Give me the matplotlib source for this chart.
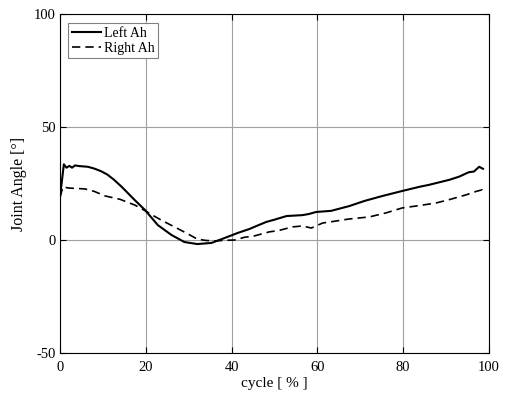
import matplotlib.pyplot as plt

plt.rcParams['font.family'] = ['Liberation Serif', 'DejaVu Serif']
plt.rcParams['axes.unicode_minus'] = False

# left joint angle
left_x = [0, 0.9, 1.5, 2.2, 2.8, 3.5, 4.5, 6.5, 8, 9.5, 11, 12.5, 14.4, 17.4, 19.8,
          22.8, 26, 29, 32, 35.3, 37.7, 41.4, 44.2, 45.3, 48.1, 50, 52.8, 56.5,
          58, 59.7, 63.2, 67.4, 71, 75.2, 79.8, 83.7, 86, 90.7, 93, 95.3, 96.5,
          97.7, 98.6]
left_y = [19, 33.5, 32, 32.8, 32, 33, 32.7, 32.4, 31.6, 30.5, 29, 26.8, 23.5, 17.7,
          13.3, 6.6, 2.2, -0.9, -1.8, -1.3, 0.4, 3.1, 4.9, 5.8, 8, 9, 10.6, 11,
          11.5, 12.4, 12.9, 15, 17.3, 19.5, 21.7, 23.5, 24.4, 26.6, 28, 30, 30.3,
          32.4, 31.5]

# right joint angle
right_x = [0, 0.7, 2, 5.8, 8, 10.5, 14, 17.4, 19.8, 22, 24.4, 27, 30, 32, 34,
           36, 38, 40.7, 43, 45.3, 48.8, 51, 54.2, 56.5, 58.6, 61.2, 64, 67.4,
           72.1, 76, 79.8, 84, 87.7, 91, 94.7, 97, 98.4, 98.6]
right_y = [19, 23.5, 23, 22.6, 21.5, 19.5, 18, 15.5, 13, 10.5, 8, 5.5, 2.5, 0.4,
           -0.2, -0.4, -0.2, 0, 1.2, 1.8, 3.6, 4.2, 5.8, 6.2, 5.3, 7.5, 8.3, 9.3,
           10.2, 12, 14.2, 15.3, 16.4, 18, 20, 21.5, 22.2, 21.5]

fig = plt.figure(figsize=(5.09, 3.98), dpi=100)
ax = fig.add_axes([60/509, 45/398, 429/509, 339/398])

ax.plot(left_x, left_y, 'k-', lw=1.5, label='Left Ah')
ax.plot(right_x, right_y, color='k', ls=(0, (5, 3)), lw=1.2, label='Right Ah')

ax.set_xlim(0, 100)
ax.set_ylim(-50, 100)
ax.set_xticks([0, 20, 40, 60, 80, 100])
ax.set_yticks([-50, 0, 50, 100])
ax.grid(True, color='#a0a0a0', lw=0.8)
ax.tick_params(direction='in', top=True, right=True, labelsize=10.5, length=4, colors='k')
ax.tick_params(axis='x', pad=6)
ax.tick_params(axis='y', pad=3)
ax.set_xlabel('cycle [ % ]', fontsize=11, labelpad=2)
ax.set_ylabel('Joint Angle [°]', fontsize=11.5, labelpad=5)

leg = ax.legend(loc='upper left', bbox_to_anchor=(0.019, 0.973), fancybox=False,
                fontsize=10, handlelength=2.1, borderaxespad=0, borderpad=0.25,
                labelspacing=0.15, handletextpad=0.2, framealpha=1)
leg.get_frame().set_edgecolor('#808080')
leg.get_frame().set_linewidth(0.8)

fig.savefig('out.png', dpi=100)
